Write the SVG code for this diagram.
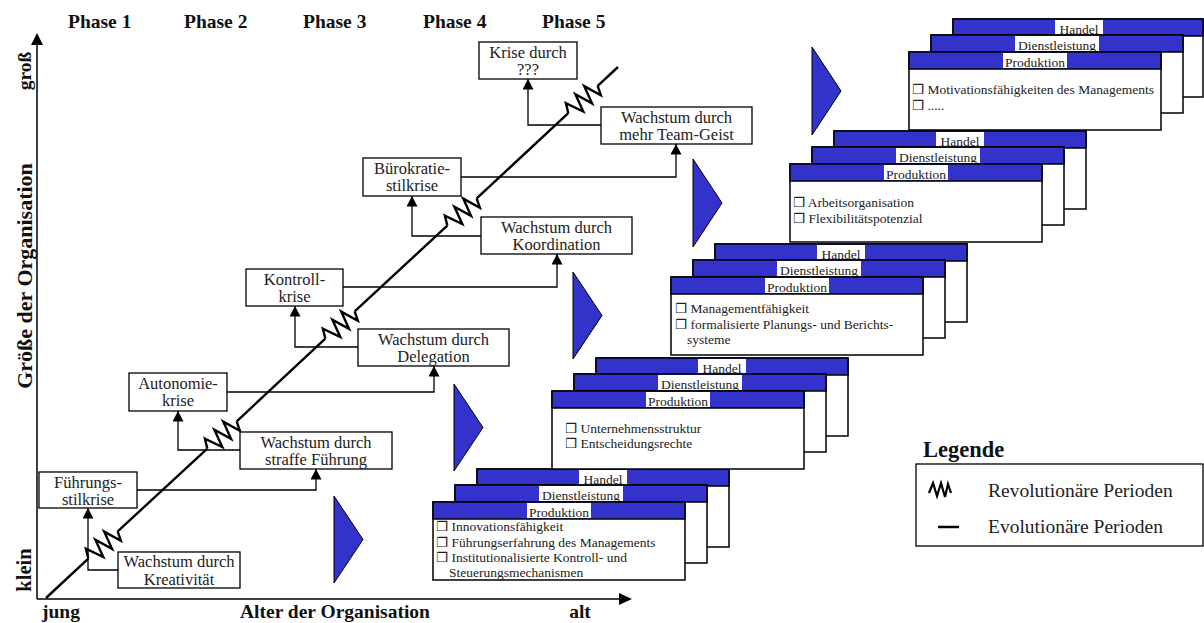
<svg xmlns="http://www.w3.org/2000/svg" width="1204" height="623" viewBox="0 0 1204 623">
<style>
.ax{stroke:#000;stroke-width:1.5;fill:none}
.diag{stroke:#000;stroke-width:2.4;fill:none;stroke-linejoin:miter}
.conn{stroke:#000;stroke-width:1.3;fill:none;marker-end:url(#ah)}
.box{fill:#fff;stroke:#000;stroke-width:1.3}
.bt{font-family:"Liberation Serif",serif;font-size:16.5px;text-anchor:middle;fill:#222}
.bold{font-family:"Liberation Serif",serif;font-weight:bold;font-size:19.5px;fill:#111}
.card{fill:#fff;stroke:#000;stroke-width:1.5}
.hdr{fill:#3333CC;stroke:#000;stroke-width:1.5}
.lbl{fill:#fff}
.ht{font-family:"Liberation Serif",serif;font-size:13.5px;text-anchor:middle;fill:#222}
.it{font-family:"Liberation Serif","DejaVu Sans",serif;font-size:13.5px;fill:#222}
.tri{fill:#3333CC;stroke:#000;stroke-width:1}
.lg{font-family:"Liberation Serif",serif;font-size:19.5px;fill:#222}
</style>
<defs>
<marker id="ah" markerUnits="userSpaceOnUse" markerWidth="11" markerHeight="11" refX="10.5" refY="5.5" orient="auto">
<path d="M0,0 L10.5,5.5 L0,11 z" fill="#000"/>
</marker>
<polyline id="zz" points="-20,0 -15,-9 -8,9 -2,-9 4,9 10,-9 16,9 20,0" fill="none" stroke="#000" stroke-width="2.4"/>
</defs>

<g id="axes">
<line class="ax" x1="37" y1="599" x2="37" y2="44"/>
<polygon points="37,33 31,45 43,45" fill="#000"/>
<line class="ax" x1="37" y1="599" x2="620" y2="599"/>
<polygon points="632,599 619,593 619,605" fill="#000"/>
<text class="bold" x="68" y="28">Phase 1</text>
<text class="bold" x="184" y="28">Phase 2</text>
<text class="bold" x="303" y="28">Phase 3</text>
<text class="bold" x="423" y="28">Phase 4</text>
<text class="bold" x="542" y="28">Phase 5</text>
<text class="bold" text-anchor="middle" transform="translate(31,71) rotate(-90)">groß</text>
<text class="bold" text-anchor="middle" transform="translate(32,276) rotate(-90)" style="font-size:22px">Größe der Organisation</text>
<text class="bold" text-anchor="middle" transform="translate(31,570) rotate(-90)" style="font-size:20.5px">klein</text>
<text class="bold" x="42" y="618">jung</text>
<text class="bold" x="335" y="618" text-anchor="middle">Alter der Organisation</text>
<text class="bold" x="580" y="618" text-anchor="middle">alt</text>
</g>

<g id="connectors">
<path class="conn" d="M118,570 H88 V508"/>
<path class="conn" d="M137,490 H316 V469"/>
<path class="conn" d="M240,450 H178 V411"/>
<path class="conn" d="M227,392 H434 V366"/>
<path class="conn" d="M358,347 H295 V306"/>
<path class="conn" d="M343,287 H557 V254"/>
<path class="conn" d="M481,236 H412 V196"/>
<path class="conn" d="M461,177 H676 V144"/>
<path class="conn" d="M601,125 H528 V79"/>
</g>

<g id="growth-line">
<path class="diag" d="M46,598 L88.3,558.6 M117.7,531.4 L207.3,448.6 M236.7,421.4 L325.3,338.6 M354.7,311.4 L447.3,225.6 M476.7,198.4 L568.3,113.1 M597.7,85.9 L618,67"/>
<use href="#zz" transform="translate(103,545) rotate(-42.9)"/>
<use href="#zz" transform="translate(222,435) rotate(-42.9)"/>
<use href="#zz" transform="translate(340,325) rotate(-42.9)"/>
<use href="#zz" transform="translate(462,212) rotate(-42.9)"/>
<use href="#zz" transform="translate(583,99.5) rotate(-42.9)"/>
</g>

<g id="n-kreativitaet"><rect class="box" x="118" y="552" width="122" height="36"/><text class="bt" x="179" y="567">Wachstum durch</text><text class="bt" x="179" y="585">Kreativität</text></g>
<g id="n-fuehrungsstilkrise"><rect class="box" x="39" y="472" width="98" height="36"/><text class="bt" x="88" y="487.5">Führungs-</text><text class="bt" x="88" y="505">stilkrise</text></g>
<g id="n-straffe"><rect class="box" x="240" y="432" width="152" height="37"/><text class="bt" x="316" y="447.5">Wachstum durch</text><text class="bt" x="316" y="465">straffe Führung</text></g>
<g id="n-autonomie"><rect class="box" x="129" y="373" width="98" height="38"/><text class="bt" x="178" y="388.5">Autonomie-</text><text class="bt" x="178" y="406">krise</text></g>
<g id="n-delegation"><rect class="box" x="358" y="329" width="151" height="37"/><text class="bt" x="433.5" y="344.5">Wachstum durch</text><text class="bt" x="433.5" y="362">Delegation</text></g>
<g id="n-kontroll"><rect class="box" x="246" y="269" width="97" height="37"/><text class="bt" x="294.5" y="284.5">Kontroll-</text><text class="bt" x="294.5" y="302">krise</text></g>
<g id="n-koordination"><rect class="box" x="481" y="217" width="151" height="37"/><text class="bt" x="556.5" y="232.5">Wachstum durch</text><text class="bt" x="556.5" y="250">Koordination</text></g>
<g id="n-buerokratie"><rect class="box" x="363" y="158" width="98" height="38"/><text class="bt" x="412" y="173.5">Bürokratie-</text><text class="bt" x="412" y="191">stilkrise</text></g>
<g id="n-teamgeist"><rect class="box" x="601" y="107" width="151" height="37"/><text class="bt" x="676.5" y="122.5">Wachstum durch</text><text class="bt" x="676.5" y="140">mehr Team-Geist</text></g>
<g id="n-krise"><rect class="box" x="479" y="42" width="98" height="37"/><text class="bt" x="528" y="57.5">Krise durch</text><text class="bt" x="528" y="75">???</text></g>

<g id="triangles">
<polygon class="tri" points="334,496 363,539.5 334,583"/>
<polygon class="tri" points="454,384 483,427.5 454,471"/>
<polygon class="tri" points="573,272 602,315.5 573,359"/>
<polygon class="tri" points="693,159 722,203 693,247"/>
<polygon class="tri" points="812,47 841,91 812,135"/>
</g>

<g id="stack1" transform="translate(433,502)">
<rect class="card" x="44" y="-33" width="252" height="78"/><rect class="hdr" x="44" y="-33" width="252" height="17"/><rect class="lbl" x="146" y="-32" width="48" height="15"/><text class="ht" x="170" y="-18.5">Handel</text>
<rect class="card" x="22" y="-17" width="252" height="78"/><rect class="hdr" x="22" y="-17" width="252" height="17"/><rect class="lbl" x="106" y="-16" width="84" height="15"/><text class="ht" x="148" y="-2.5">Dienstleistung</text>
<rect class="card" x="0" y="0" width="252" height="78"/><rect class="hdr" x="0" y="0" width="252" height="17"/><rect class="lbl" x="94" y="1" width="64" height="15"/><text class="ht" x="126" y="14.5">Produktion</text>
<text class="it" x="3" y="29">❒ Innovationsfähigkeit</text>
<text class="it" x="3" y="45">❒ Führungserfahrung des Managements</text>
<text class="it" x="3" y="60">❒ Institutionalisierte Kontroll- und</text>
<text class="it" x="16" y="75">Steuerungsmechanismen</text>
</g>

<g id="stack2" transform="translate(552,391)">
<rect class="card" x="44" y="-33" width="252" height="78"/><rect class="hdr" x="44" y="-33" width="252" height="17"/><rect class="lbl" x="146" y="-32" width="48" height="15"/><text class="ht" x="170" y="-18.5">Handel</text>
<rect class="card" x="22" y="-17" width="252" height="78"/><rect class="hdr" x="22" y="-17" width="252" height="17"/><rect class="lbl" x="106" y="-16" width="84" height="15"/><text class="ht" x="148" y="-2.5">Dienstleistung</text>
<rect class="card" x="0" y="0" width="252" height="78"/><rect class="hdr" x="0" y="0" width="252" height="17"/><rect class="lbl" x="94" y="1" width="64" height="15"/><text class="ht" x="126" y="14.5">Produktion</text>
<text class="it" x="13" y="42">❒ Unternehmensstruktur</text>
<text class="it" x="13" y="57">❒ Entscheidungsrechte</text>
</g>

<g id="stack3" transform="translate(671,277)">
<rect class="card" x="44" y="-33" width="252" height="78"/><rect class="hdr" x="44" y="-33" width="252" height="17"/><rect class="lbl" x="146" y="-32" width="48" height="15"/><text class="ht" x="170" y="-18.5">Handel</text>
<rect class="card" x="22" y="-17" width="252" height="78"/><rect class="hdr" x="22" y="-17" width="252" height="17"/><rect class="lbl" x="106" y="-16" width="84" height="15"/><text class="ht" x="148" y="-2.5">Dienstleistung</text>
<rect class="card" x="0" y="0" width="252" height="78"/><rect class="hdr" x="0" y="0" width="252" height="17"/><rect class="lbl" x="94" y="1" width="64" height="15"/><text class="ht" x="126" y="14.5">Produktion</text>
<text class="it" x="4" y="36">❒ Managementfähigkeit</text>
<text class="it" x="4" y="52">❒ formalisierte Planungs- und Berichts-</text>
<text class="it" x="16" y="67">systeme</text>
</g>

<g id="stack4" transform="translate(790,164)">
<rect class="card" x="44" y="-33" width="252" height="78"/><rect class="hdr" x="44" y="-33" width="252" height="17"/><rect class="lbl" x="146" y="-32" width="48" height="15"/><text class="ht" x="170" y="-18.5">Handel</text>
<rect class="card" x="22" y="-17" width="252" height="78"/><rect class="hdr" x="22" y="-17" width="252" height="17"/><rect class="lbl" x="106" y="-16" width="84" height="15"/><text class="ht" x="148" y="-2.5">Dienstleistung</text>
<rect class="card" x="0" y="0" width="252" height="78"/><rect class="hdr" x="0" y="0" width="252" height="17"/><rect class="lbl" x="94" y="1" width="64" height="15"/><text class="ht" x="126" y="14.5">Produktion</text>
<text class="it" x="3" y="43">❒ Arbeitsorganisation</text>
<text class="it" x="3" y="59">❒ Flexibilitätspotenzial</text>
</g>

<g id="stack5" transform="translate(909,52)">
<rect class="card" x="44" y="-33" width="250" height="78"/><rect class="hdr" x="44" y="-33" width="250" height="17"/><rect class="lbl" x="146" y="-32" width="48" height="15"/><text class="ht" x="170" y="-18.5">Handel</text>
<rect class="card" x="22" y="-17" width="252" height="78"/><rect class="hdr" x="22" y="-17" width="252" height="17"/><rect class="lbl" x="106" y="-16" width="84" height="15"/><text class="ht" x="148" y="-2.5">Dienstleistung</text>
<rect class="card" x="0" y="0" width="252" height="78"/><rect class="hdr" x="0" y="0" width="252" height="17"/><rect class="lbl" x="94" y="1" width="64" height="15"/><text class="ht" x="126" y="14.5">Produktion</text>
<text class="it" x="3" y="42">❒ Motivationsfähigkeiten des Managements</text>
<text class="it" x="3" y="58">❒ .....</text>
</g>

<g id="legend">
<text class="bold" x="923" y="457" style="font-size:22.5px">Legende</text>
<rect x="916" y="464" width="287" height="82" fill="#fff" stroke="#000" stroke-width="1.3"/>
<polyline points="929,493 933,483 937,496 941,483 945,497 948,484 951,493" fill="none" stroke="#000" stroke-width="2.2"/>
<text class="lg" x="988" y="497">Revolutionäre Perioden</text>
<line x1="938" y1="527" x2="959" y2="527" stroke="#000" stroke-width="2.5"/>
<text class="lg" x="988" y="533">Evolutionäre Perioden</text>
</g>
</svg>
